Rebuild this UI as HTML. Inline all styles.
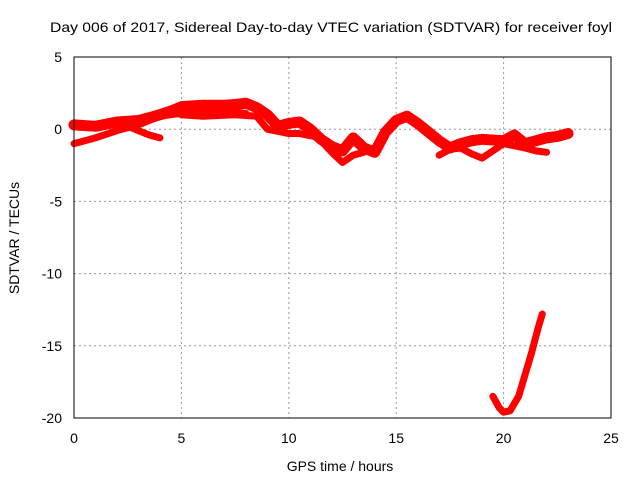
<!DOCTYPE html>
<html><head><meta charset="utf-8"><style>
body{margin:0;background:#fff;}
svg{display:block;font-family:"Liberation Sans",sans-serif;}
</style></head><body>
<svg id="chart" width="640" height="480">
<text x="331" y="32" font-size="14" text-anchor="middle" textLength="562" lengthAdjust="spacingAndGlyphs">Day 006 of 2017, Sidereal Day-to-day VTEC variation (SDTVAR) for receiver foyl</text>
<text x="340" y="471" font-size="14" text-anchor="middle">GPS time / hours</text>
<text transform="translate(19,238) rotate(-90)" font-size="14" text-anchor="middle">SDTVAR / TECUs</text>
<g id="grid"></g><g id="ticks"></g><g id="series"></g>
<rect x="74" y="57" width="537" height="361" fill="none" stroke="#000" stroke-width="1"/>
</svg>
<script>
const xTicks=[0,5,10,15,20,25];
const yTicks=[5,0,-5,-10,-15,-20];
const seriesMain=[[0,0.3],[1,0.2],[2,0.5],[3,0.6],[4,1.0],[5,1.4],[6,1.6],[7,1.6],[8,1.8],[8.5,1.5],[9,1.0],[9.5,0.2],[10,0.4],[10.5,0.5],[11,0],[11.5,-0.7],[12,-1.2],[12.5,-1.5],[13,-0.6],[13.5,-1.3],[14,-1.6],[14.5,-0.2],[15,0.6],[15.5,0.9],[16,0.4],[16.5,-0.2],[17,-0.8],[17.5,-1.3],[18,-1.0],[18.5,-0.8],[19,-0.7],[20,-0.8],[20.5,-0.4],[21,-1.0],[21.5,-0.8],[22,-0.6],[22.5,-0.5],[23,-0.3]];
const seriesTop=[[3.5,0.9],[4.5,1.4],[5,1.7],[6,1.8],[7,1.8],[8,1.9],[8.7,1.4]];
const seriesLow1=[[0,-1.0],[1,-0.6],[2,-0.1],[3,0.3],[4,0.9],[5,1.1],[6,1.2],[7,1.2],[8,1.1]];
const seriesLow2=[[2.5,0.2],[3,-0.1],[3.5,-0.4],[4,-0.6]];
const seriesLow3=[[5,1.0],[6,0.9],[7.5,1.0],[8.5,0.9],[9,0],[10,-0.3],[10.5,-0.3],[11.5,-0.6]];
const seriesLow4=[[11,-0.3],[11.5,-0.8],[12,-1.6],[12.5,-2.3],[13,-1.8],[13.5,-1.6]];
const seriesLow5=[[17,-1.8],[17.5,-1.4],[18,-1.3],[18.5,-1.7],[19,-2.0],[19.5,-1.5],[20,-1.0],[21,-1.3],[21.5,-1.5],[22,-1.6]];
const seriesDrop=[[19.5,-18.5],[19.8,-19.3],[20,-19.6],[20.3,-19.5],[20.7,-18.5],[21,-17.0],[21.3,-15.5],[21.6,-13.8],[21.8,-12.8]];
const allSeries=[seriesMain,seriesTop,seriesLow1,seriesLow2,seriesLow3,seriesLow4,seriesLow5,seriesDrop];
const X=v=>74+v*537/25, Y=v=>57+(5-v)*361/25;
const NS="http://www.w3.org/2000/svg";
const g=document.getElementById('grid'),t=document.getElementById('ticks'),s=document.getElementById('series');
function mk(tag,a,p){const e=document.createElementNS(NS,tag);for(const k in a)e.setAttribute(k,a[k]);p.appendChild(e);return e;}
xTicks.forEach(v=>{
 if(v>0&&v<25){const l=mk('line',{x1:X(v),x2:X(v),y1:57,y2:418,stroke:'#999','stroke-dasharray':'2,3'},g);
 
 }
 const tx=mk('text',{x:X(v),y:443,'font-size':14,'text-anchor':'middle'},t);tx.textContent=v;
 
 
});
yTicks.forEach(v=>{
 if(v<5&&v>-20){const l=mk('line',{x1:74,x2:611,y1:Y(v),y2:Y(v),stroke:'#999','stroke-dasharray':'2,3'},g);
 
 }
 const tx=mk('text',{x:62,y:Y(v)+5,'font-size':14,'text-anchor':'end'},t);tx.textContent=v;
 
 
});
allSeries.forEach((d,i)=>{
 const p=mk('polyline',{points:d.map(q=>X(q[0])+','+Y(q[1])).join(' '),fill:'none',stroke:'#f00','stroke-width':i==0?11:7,'stroke-linejoin':'round','stroke-linecap':'round'},s);
 
 
});
</script>
</body></html>
